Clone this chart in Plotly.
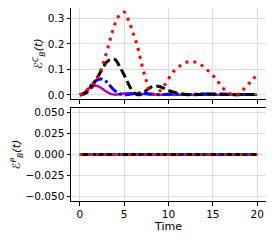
import plotly.graph_objects as go

t = [i * 0.5 for i in range(41)]

red_C = [0.0, 0.010, 0.026, 0.045, 0.068, 0.110, 0.165, 0.228, 0.282, 0.315,
         0.325, 0.292, 0.243, 0.190, 0.118, 0.055, 0.010, 0.002, 0.015, 0.036,
         0.064, 0.090, 0.105, 0.120, 0.128, 0.131, 0.129, 0.121, 0.110, 0.094,
         0.077, 0.056, 0.033, 0.015, 0.004, 0.0, 0.006, 0.023, 0.042, 0.061, 0.078]
black_C = [0.0, 0.004, 0.015, 0.040, 0.070, 0.100, 0.128, 0.140, 0.138, 0.110,
           0.078, 0.042, 0.012, 0.001, 0.004, 0.018, 0.030, 0.035, 0.033, 0.026,
           0.018, 0.012, 0.007, 0.004, 0.002, 0.001, 0.001, 0.002, 0.003, 0.004,
           0.004, 0.004, 0.003, 0.002, 0.001, 0.001, 0.001, 0.002, 0.002, 0.002, 0.002]
blue_C = [0.0, 0.006, 0.025, 0.048, 0.060, 0.062, 0.052, 0.032, 0.015, 0.004,
          0.001, 0.002, 0.005, 0.007, 0.008, 0.006, 0.004, 0.002, 0.001, 0.002,
          0.003, 0.004, 0.004, 0.003, 0.002, 0.002, 0.003, 0.004, 0.004, 0.003,
          0.002, 0.002, 0.003, 0.003, 0.003, 0.002, 0.002, 0.002, 0.002, 0.002, 0.002]
magenta_C = [0.0, 0.008, 0.025, 0.035, 0.035, 0.025, 0.013, 0.004, 0.001, 0.003,
             0.006, 0.007, 0.007, 0.006, 0.004, 0.003, 0.002, 0.002, 0.001, 0.001,
             0.001, 0.001, 0.001, 0.001, 0.001, 0.001, 0.001, 0.001, 0.001, 0.001,
             0.001, 0.001, 0.001, 0.001, 0.001, 0.001, 0.001, 0.001, 0.001, 0.001, 0.001]
zeros_P = [0.0] * 41

x_ticks = [0, 5, 10, 15, 20]
top_ticks = [0.0, 0.1, 0.2, 0.3]
bot_ticks = [-0.050, -0.025, 0.000, 0.025, 0.050]

styles = [
    ("magenta_C", "#bf00bf", "solid", 2.5),
    ("blue_C", "#0000ff", "10px,3px,3px,3px", 3),
    ("black_C", "#000000", "9px,4px", 3),
    ("red_C", "#ff0000", "3px,5px", 3),
]
top_data = {"magenta_C": magenta_C, "blue_C": blue_C, "black_C": black_C, "red_C": red_C}

fig = go.Figure()
for name, color, dash, w in styles:
    fig.add_trace(go.Scatter(x=t, y=top_data[name], mode="lines", xaxis="x", yaxis="y",
                             line=dict(color=color, dash=dash, width=w, shape="spline"),
                             showlegend=False))
for name, color, dash, w in styles:
    fig.add_trace(go.Scatter(x=t, y=zeros_P, mode="lines", xaxis="x2", yaxis="y2",
                             line=dict(color=color, dash=dash, width=w),
                             showlegend=False))

font = dict(family="DejaVu Sans", size=10.5, color="black")
axcommon = dict(showline=True, linecolor="black", linewidth=1, mirror=True,
                ticks="outside", ticklen=3.5, tickcolor="black", tickwidth=1,
                showgrid=True, gridcolor="#dcdcdc", gridwidth=1, zeroline=False,
                tickfont=font)

fig.update_layout(
    width=266, height=233,
    margin=dict(l=63, r=8, t=0, b=40, autoexpand=False),
    paper_bgcolor="white", plot_bgcolor="white",
    xaxis=dict(domain=[0, 1], range=[-1, 21], tickvals=x_ticks, showticklabels=False,
               anchor="y", **axcommon),
    yaxis=dict(domain=[0.528, 1], range=[-0.0163, 0.341], tickvals=top_ticks,
               tickformat=".1f", anchor="x", automargin=True,
               title=dict(text="<i>ℰ<sup>C</sup><sub>B</sub>(t)</i>",
                          font=dict(family="DejaVu Sans", size=11, color="black"),
                          standoff=2),
               **axcommon),
    xaxis2=dict(domain=[0, 1], range=[-1, 21], tickvals=x_ticks, anchor="y2",
                matches="x",
                title=dict(text="Time", font=dict(family="DejaVu Sans", size=11, color="black"),
                           standoff=2),
                **axcommon),
    yaxis2=dict(domain=[0, 0.482], range=[-0.0556, 0.0556], tickvals=bot_ticks,
                tickformat=".3f", anchor="x2", automargin=True,
                title=dict(text="<i>ℰ<sup>P</sup><sub>B</sub>(t)</i>",
                           font=dict(family="DejaVu Sans", size=11, color="black"),
                           standoff=2),
                **axcommon),
)

fig.write_html("out.html")
